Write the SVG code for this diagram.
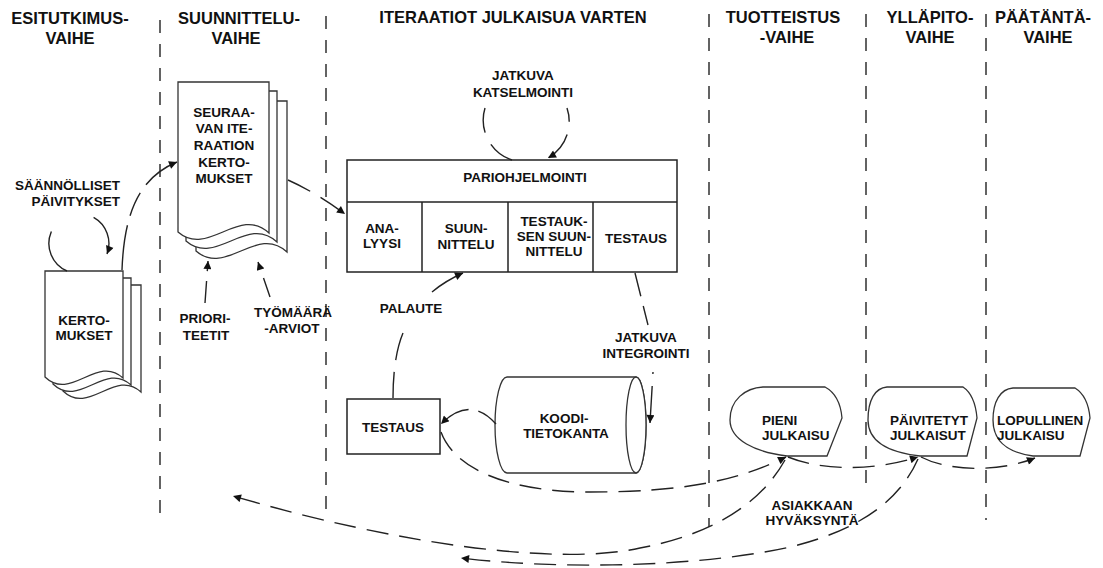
<svg xmlns="http://www.w3.org/2000/svg" width="1103" height="568" viewBox="0 0 1103 568">
  <style>
    .hd { font-family: "Liberation Sans", Arial, sans-serif; font-weight: bold; font-size: 16.5px; fill: #111; text-anchor: middle; }
    .lb { font-family: "Liberation Sans", Arial, sans-serif; font-weight: bold; font-size: 13.5px; fill: #111; text-anchor: middle; }
    .lbl { text-anchor: start; }
    .lbe { text-anchor: end; }
    .phase { fill: none; stroke: #222; stroke-width: 1.4; stroke-dasharray: 13 11; }
    .shape { fill: #fff; stroke: #333; stroke-width: 1.3; }
    .box { fill: #fff; stroke: #222; stroke-width: 1.5; }
    .flow { fill: none; stroke: #222; stroke-width: 1.4; stroke-dasharray: 22 11; }
  </style>
  <defs>
    <marker id="arrow" viewBox="0 0 10 10" refX="10" refY="5" markerWidth="10" markerHeight="8" markerUnits="userSpaceOnUse" orient="auto">
      <path d="M0,0 L10,5 L0,10 Z" fill="#111" stroke="none"/>
    </marker>
    <!-- front page outlines of the two multi-document stacks -->
    <path id="docKerto" d="M45,271 H123 V378 C97,354 71,402 45,377 Z"/>
    <path id="docSeur" d="M178,82 H269 V233 C239,205 208,258 178,232 Z"/>
  </defs>

  <rect width="1103" height="568" fill="#fff"/>

  <!-- phase separators -->
  <g id="phases">
    <line class="phase" x1="160" y1="20" x2="160" y2="523"/>
    <line class="phase" x1="326" y1="16" x2="326" y2="520"/>
    <line class="phase" x1="709" y1="14" x2="709" y2="527"/>
    <line class="phase" x1="866" y1="14" x2="866" y2="488"/>
    <line class="phase" x1="986" y1="14" x2="986" y2="520"/>
  </g>

  <!-- phase headings -->
  <g id="headings">
    <text class="hd" x="70" y="24">ESITUTKIMUS-</text>
    <text class="hd" x="70" y="44">VAIHE</text>
    <text class="hd" x="239" y="24">SUUNNITTELU-</text>
    <text class="hd" x="236" y="44">VAIHE</text>
    <text class="hd" x="513" y="23">ITERAATIOT JULKAISUA VARTEN</text>
    <text class="hd" x="783" y="23">TUOTTEISTUS</text>
    <text class="hd" x="787" y="43">-VAIHE</text>
    <text class="hd" x="930" y="23">YLLÄPITO-</text>
    <text class="hd" x="930" y="43">VAIHE</text>
    <text class="hd" x="1043" y="23">PÄÄTÄNTÄ-</text>
    <text class="hd" x="1048" y="43">VAIHE</text>
  </g>

  <!-- user stories stack -->
  <g id="kertomukset">
    <use href="#docKerto" class="shape" transform="translate(18,14)"/>
    <use href="#docKerto" class="shape" transform="translate(8,7)"/>
    <use href="#docKerto" class="shape"/>
    <text class="lb" x="84" y="325">KERTO-</text>
    <text class="lb" x="84" y="340">MUKSET</text>
  </g>

  <!-- next iteration stories stack -->
  <g id="seuraavan">
    <use href="#docSeur" class="shape" transform="translate(18,19)"/>
    <use href="#docSeur" class="shape" transform="translate(8,9)"/>
    <use href="#docSeur" class="shape"/>
    <text class="lb" x="224" y="117">SEURAA-</text>
    <text class="lb" x="224" y="133">VAN ITE-</text>
    <text class="lb" x="224" y="150">RAATION</text>
    <text class="lb" x="224" y="167">KERTO-</text>
    <text class="lb" x="224" y="183">MUKSET</text>
  </g>

  <!-- pair programming block -->
  <g id="pariohjelmointi">
    <rect class="box" x="347" y="160" width="330" height="112"/>
    <line class="box" x1="347" y1="202" x2="677" y2="202"/>
    <line class="box" x1="422" y1="202" x2="422" y2="272"/>
    <line class="box" x1="508" y1="202" x2="508" y2="272"/>
    <line class="box" x1="593" y1="202" x2="593" y2="272"/>
    <text class="lb" x="525" y="182">PARIOHJELMOINTI</text>
    <text class="lb" x="382" y="233">ANA-</text>
    <text class="lb" x="382" y="248">LYYSI</text>
    <text class="lb" x="466" y="233">SUUN-</text>
    <text class="lb" x="466" y="249">NITTELU</text>
    <text class="lb" x="554" y="226">TESTAUK-</text>
    <text class="lb" x="554" y="241">SEN SUUN-</text>
    <text class="lb" x="554" y="256">NITTELU</text>
    <text class="lb" x="636" y="243">TESTAUS</text>
  </g>

  <!-- testing box -->
  <g id="testaus">
    <rect class="box" x="347" y="399" width="93" height="55"/>
    <text class="lb" x="393" y="432">TESTAUS</text>
  </g>

  <!-- code base cylinder -->
  <g id="koodikanta">
    <path class="shape" d="M507,377 H636 A10,48 0 0 1 636,473 H507 A12,48 0 0 1 507,377 Z"/>
    <ellipse class="shape" cx="636" cy="425" rx="10" ry="48"/>
    <text class="lb" x="564" y="423">KOODI-</text>
    <text class="lb" x="566" y="438">TIETOKANTA</text>
  </g>

  <!-- releases -->
  <g id="pieni">
    <path class="shape" d="M763,387 H825 Q840,395 842,418 L827,456 H787 C755,452 730,440 730,420 C730,400 745,388 763,387 Z"/>
    <text class="lb lbl" x="762" y="425">PIENI</text>
    <text class="lb lbl" x="762" y="440">JULKAISU</text>
  </g>
  <g id="paivitetyt">
    <path class="shape" d="M887,387 H963 Q975,395 977,418 L967,456 H920 C885,452 868,440 868,420 C868,400 875,388 887,387 Z"/>
    <text class="lb lbl" x="890" y="425">PÄIVITETYT</text>
    <text class="lb lbl" x="890" y="440">JULKAISUT</text>
  </g>
  <g id="lopullinen">
    <path class="shape" d="M1013,388 H1075 Q1088,396 1090,418 L1080,456 H1033 C1005,452 993,440 993,420 C993,402 1000,389 1013,388 Z"/>
    <text class="lb lbl" x="997" y="425">LOPULLINEN</text>
    <text class="lb lbl" x="997" y="440">JULKAISU</text>
  </g>

  <!-- connectors -->
  <g id="connectors">
    <path class="flow" style="stroke-dasharray:47 50 60" d="M67,271 A30,30 0 1 1 107,254" marker-end="url(#arrow)"/>
    <path class="flow" style="stroke-dasharray:45 10 25 10" d="M122,270 C124,215 138,178 177,162" marker-end="url(#arrow)"/>
    <path class="flow" style="stroke-dasharray:25 12" d="M288,180 Q315,192 345,214" marker-end="url(#arrow)"/>
    <path class="flow" style="stroke-dasharray:22 10" d="M205,303 L208,261" marker-end="url(#arrow)"/>
    <path class="flow" style="stroke-dasharray:20 10" d="M270,297 L258,262" marker-end="url(#arrow)"/>
    <path class="flow" style="stroke-dasharray:25 13 30" d="M485,108 A42,42 0 0 0 512,160"/>
    <path class="flow" style="stroke-dasharray:14 13 30" d="M567,108 A42,42 0 0 1 548,158" marker-end="url(#arrow)"/>
    <path class="flow" style="stroke-dasharray:26 12 30" d="M393,398 C393,365 398,345 403,333"/>
    <path class="flow" style="stroke-dasharray:40" d="M432,292 Q445,281 463,273" marker-end="url(#arrow)"/>
    <path class="flow" style="stroke-dasharray:24 10" d="M635,273 L648,325"/>
    <path class="flow" style="stroke-dasharray:2 12 60" d="M653,372 L650,423" marker-end="url(#arrow)"/>
    <path class="flow" style="stroke-dasharray:22 10 30" d="M496,424 Q470,395 441,424" marker-end="url(#arrow)"/>
    <path class="flow" d="M441,432 C455,470 510,492 590,492 C680,492 735,482 786,457" marker-end="url(#arrow)"/>
    <path class="flow" d="M788,457 C820,470 870,472 918,457" marker-end="url(#arrow)"/>
    <path class="flow" d="M921,457 C950,472 1000,472 1035,458" marker-end="url(#arrow)"/>
    <path class="flow" d="M785,460 C760,505 710,535 640,548 C560,566 400,545 233,496" marker-end="url(#arrow)"/>
    <path class="flow" d="M918,459 C900,500 860,530 790,547 C700,567 560,570 461,558" marker-end="url(#arrow)"/>
  </g>

  <!-- connector labels -->
  <g id="labels">
    <text class="lb lbe" x="120" y="190">SÄÄNNÖLLISET</text>
    <text class="lb lbe" x="120" y="206">PÄIVITYKSET</text>
    <text class="lb" x="205" y="323">PRIORI-</text>
    <text class="lb" x="206" y="340">TEETIT</text>
    <text class="lb" x="293" y="317">TYÖMÄÄRÄ</text>
    <text class="lb" x="292" y="333">-ARVIOT</text>
    <text class="lb" x="523" y="80">JATKUVA</text>
    <text class="lb" x="523" y="97">KATSELMOINTI</text>
    <text class="lb" x="411" y="313">PALAUTE</text>
    <text class="lb" x="646" y="342">JATKUVA</text>
    <text class="lb" x="646" y="358">INTEGROINTI</text>
    <text class="lb" x="812" y="510">ASIAKKAAN</text>
    <text class="lb" x="812" y="525">HYVÄKSYNTÄ</text>
  </g>
</svg>
